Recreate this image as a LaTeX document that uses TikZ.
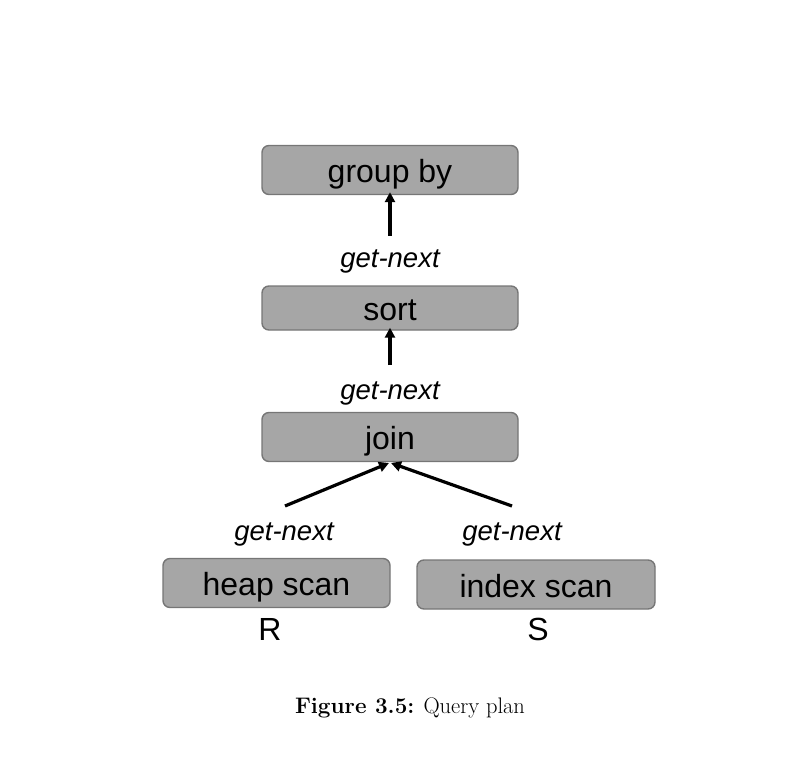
\documentclass[tikz,border=0pt]{standalone}
\usepackage{fontspec}
\setsansfont{Liberation Sans}
\usetikzlibrary{positioning,arrows.meta}
\definecolor{opfill}{RGB}{166,166,166}
\definecolor{opdraw}{RGB}{118,118,118}
\begin{document}
\begin{tikzpicture}[x=1pt, y=-1pt, node distance={2pt},
    op/.style = {draw=opdraw, line width=1.4pt, fill=opfill, rounded corners=7pt, minimum height=49pt,
                 font=\sffamily\fontsize{32}{36}\selectfont, inner sep=0pt, text height=31pt, text depth=6pt},
    lbl/.style = {font=\sffamily\itshape\fontsize{27.5}{32}\selectfont, inner sep=0pt},
    rel/.style = {font=\sffamily\fontsize{32}{36}\selectfont, inner sep=0pt},
    arr/.style = {line width=3.2pt, -{Triangle[length=10pt,width=10pt]}}]
            \useasboundingbox (0,0) rectangle (788,757);
            \node[op, minimum width=256pt] (grp)  at (390,170)   {group by};
            \node[op, minimum width=256pt, minimum height=44pt] (srt) at (390,308) {sort};
            \node[op, minimum width=256pt] (jn)   at (390,437)   {join};
            \node[op, minimum width=227pt] (heap) at (276.5,583) {heap scan};
            \node[op, minimum width=238pt] (idx)  at (536,584.5) {index scan};

            \node[lbl] (gn1) at (390,261) {get-next};
            \node[lbl] (gn2) at (390,393) {get-next};
            \node[lbl] (gn3) at (284,534) {get-next};
            \node[lbl] (gn4) at (512,534) {get-next};

            \node[rel] (r) at (270,629) {R};
            \node[rel] (s) at (538,629) {S};

            \coordinate (t1) at (390,236);
            \coordinate (t2) at (390,365);
            \coordinate (t3) at (285,506);
            \coordinate (t4) at (512,506);
            \coordinate (h3) at (389,463);
            \coordinate (h4) at (391,463);

            \draw[arr] (t1) -- ([yshift=3pt]grp.south);
            \draw[arr] (t2) -- ([yshift=3pt]srt.south);
            \draw[arr] (t3) -- (h3);
            \draw[arr] (t4) -- (h4);

            \node[font=\fontsize{22.5}{27}\selectfont] (cap) at (410,708) {\textbf{Figure 3.5:} Query plan};
        \end{tikzpicture}
\end{document}
